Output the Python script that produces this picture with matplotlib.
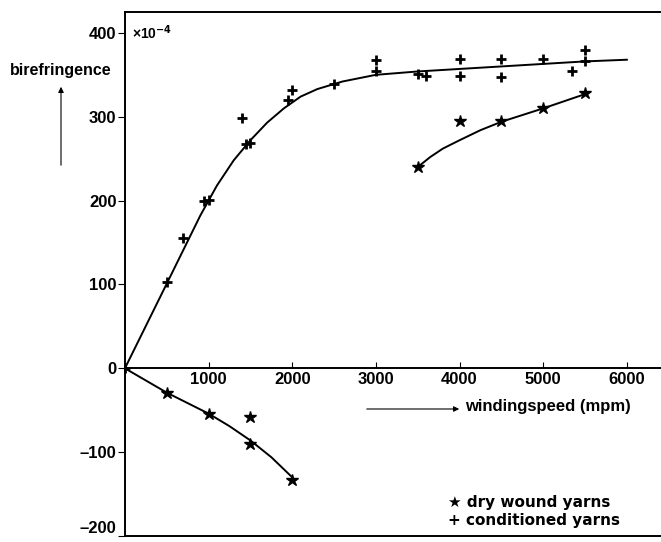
import matplotlib
matplotlib.use("Agg")
import matplotlib.pyplot as plt

plt.rcParams['font.family'] = ['Liberation Sans', 'DejaVu Sans']
plt.rcParams['font.weight'] = 'bold'

# measured points, birefringence in units of 1e-4
cond_speed = [0, 500, 700, 950, 1000, 1400, 1450, 1500, 1950, 2000, 2500,
              3000, 3000, 3500, 3600, 4000, 4000, 4500, 4500, 5000, 5350, 5500, 5500]
cond_biref = [0, 103, 156, 200, 201, 299, 268, 269, 320, 332, 339,
              368, 354, 351, 348, 369, 348, 369, 347, 369, 354, 380, 367]

dry_speed = [500, 1000, 1500, 1500, 2000, 3500, 4000, 4500, 5000, 5500]
dry_biref = [-30, -55, -58, -90, -133, 240, 295, 295, 311, 328]

# hand-drawn trend curves
cond_fit_x = [0, 500, 900, 1100, 1300, 1500, 1700, 1900, 2100, 2300, 2600, 3000,
              3500, 4000, 4500, 5000, 5500, 6000]
cond_fit_y = [0, 101, 182, 218, 248, 272, 293, 310, 324, 333, 342, 350,
              354, 357, 360, 363, 366, 368]

dry_lo_x = [0, 500, 1000, 1250, 1500, 1750, 2000]
dry_lo_y = [0, -29, -54, -69, -86, -106, -130]

dry_hi_x = [3500, 3650, 3800, 4000, 4250, 4500, 5000, 5500]
dry_hi_y = [240, 252, 262, 272, 284, 294, 310, 327]

fig = plt.figure(figsize=(6.61, 5.42), dpi=100)
ax = fig.add_axes([0.189, 0.011, 0.81, 0.967])

ax.plot(cond_fit_x, cond_fit_y, color='black', lw=1.4)
ax.plot(dry_lo_x, dry_lo_y, color='black', lw=1.4)
ax.plot(dry_hi_x, dry_hi_y, color='black', lw=1.4)

ax.plot(cond_speed, cond_biref, linestyle='none', marker='+', ms=7, mew=2, color='black')
ax.plot(dry_speed, dry_biref, linestyle='none', marker='*', ms=9, color='black')

ax.set_xlim(0, 6400)
ax.set_ylim(-200, 425)

ax.spines['right'].set_visible(False)
ax.spines['bottom'].set_position(('data', 0))
ax.spines['left'].set_linewidth(1.4)
ax.spines['top'].set_linewidth(1.4)
ax.spines['bottom'].set_linewidth(1.4)
ax.axhline(-200, color='black', lw=1.4, clip_on=False)

ax.set_xticks([1000, 2000, 3000, 4000, 5000, 6000])
ax.set_yticks([-200, -100, 0, 100, 200, 300, 400])
ax.set_yticklabels(['\u2013200', '\u2013100', '0', '100', '200', '300', '400'])
ax.tick_params(axis='x', direction='in', length=4, labelsize=12, pad=3)
ax.tick_params(axis='y', direction='out', length=5, labelsize=12, pad=1)
for lab in ax.get_xticklabels() + ax.get_yticklabels():
    lab.set_fontweight('bold')
ax.get_yticklabels()[0].set_va('bottom')

ax.text(80, 400, '\u00d710$^{-4}$', fontsize=10, va='center', ha='left', fontweight='bold')

# y label with arrow
fig.text(61 / 661, 1 - 70 / 542, 'birefringence', fontsize=11.5, ha='center', va='center', fontweight='bold')
fig.add_artist(matplotlib.patches.FancyArrowPatch((61 / 661, 1 - 168 / 542), (61 / 661, 1 - 84 / 542),
                                                  transform=fig.transFigure, arrowstyle='-|>',
                                                  mutation_scale=8, lw=0.8, color='black'))

# x label with arrow
fig.add_artist(matplotlib.patches.FancyArrowPatch((364 / 661, 1 - 409 / 542), (462 / 661, 1 - 409 / 542),
                                                  transform=fig.transFigure, arrowstyle='-|>',
                                                  mutation_scale=8, lw=0.8, color='black'))
fig.text(465 / 661, 1 - 407 / 542, 'windingspeed (mpm)', fontsize=12, ha='left', va='center', fontweight='bold')

# key
fig.text(448 / 661, 1 - 502 / 542, '\u2605 dry wound yarns', fontsize=11, ha='left', va='center', fontweight='bold',
         family=['DejaVu Sans'])
fig.text(448 / 661, 1 - 520 / 542, '+ conditioned yarns', fontsize=11, ha='left', va='center', fontweight='bold',
         family=['DejaVu Sans'])

fig.savefig('out.png', dpi=100)
